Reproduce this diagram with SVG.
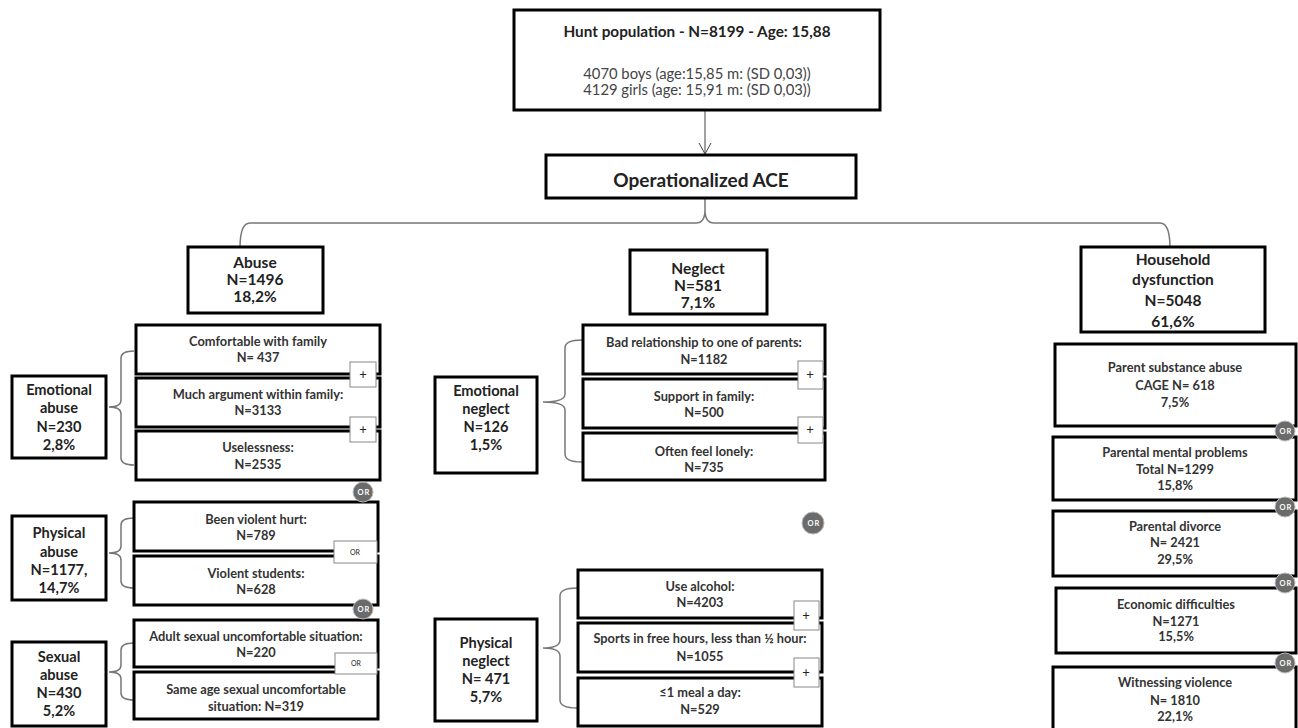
<svg xmlns="http://www.w3.org/2000/svg" width="1298" height="728" viewBox="0 0 1298 728">
<defs>
<style>
text{font-family:Lato,"Liberation Sans",sans-serif;text-anchor:middle;fill:#222}
.box{fill:#fff;stroke:#000;stroke-width:3}
.item{font-size:12.8px;font-weight:bold;fill:#333}
.cat{font-size:14.6px;font-weight:bold}
.main{font-size:15.5px;font-weight:bold}
.plus{fill:#fff;stroke:#888;stroke-width:1}
.pt{font-size:13px;fill:#222}
.orc{fill:#6b6b6b;stroke:#bbb;stroke-width:1}
.ort{font-size:7.5px;font-weight:bold;fill:#fff;letter-spacing:1px}
.orr{font-size:7px;fill:#222}
.br{fill:none;stroke:#777;stroke-width:1.5}
</style>
</defs>

<g id="connectors">
<line x1="705" y1="111" x2="705" y2="154" stroke="#444" stroke-width="1"/>
<path d="M699,143 L705,154 L711,143" fill="none" stroke="#444" stroke-width="1"/>
<path class="br" d="M240,248 Q240,223 250,223 L696,223 Q705,223 705,210 L705,198 M705,210 Q705,223 714,223 L1160,223 Q1170,223 1170,248"/>
<path class="br" d="M134,351 Q121,351 121,358 L121,400 Q121,407 109,407 Q121,407 121,414 L121,458 Q121,465 134,465"/>
<path class="br" d="M134,518 Q121,518 121,525 L121,546 Q121,553 109,553 Q121,553 121,560 L121,581 Q121,588 134,588"/>
<path class="br" d="M134,643 Q121,643 121,650 L121,665 Q121,672 109,672 Q121,672 121,679 L121,693 Q121,700 134,700"/>
<path class="br" d="M582,340 Q565,340 565,348 L565,394 Q565,402 543,402 Q565,402 565,410 L565,454 Q565,462 582,462"/>
<path class="br" d="M577,588 Q560,588 560,596 L560,640 Q560,648 543,648 Q560,648 560,656 L560,700 Q560,708 577,708"/>
</g>

<g id="top">
<rect class="box" x="514" y="10" width="366" height="100"/>
<text x="697" y="37" style="font-size:15.3px;font-weight:bold">Hunt population - N=8199 - Age: 15,88</text>
<text x="697" y="79" style="font-size:14.8px;fill:#444">4070 boys (age:15,85 m: (SD 0,03))</text>
<text x="697" y="95" style="font-size:14.8px;fill:#444">4129 girls (age: 15,91 m: (SD 0,03))</text>
</g>

<g id="ace">
<rect class="box" x="546" y="155" width="310" height="43"/>
<text x="701" y="187" style="font-size:19px;font-weight:bold">Operationalized ACE</text>
</g>

<g id="abuse">
<rect class="box" x="188" y="247" width="135" height="66"/>
<text class="main" x="255" y="268">Abuse</text>
<text class="main" x="255" y="285">N=1496</text>
<text class="main" x="255" y="302">18,2%</text>
</g>

<g id="emotional-abuse">
<rect class="box" x="12" y="376" width="94" height="82"/>
<text class="cat" x="59" y="395">Emotional</text>
<text class="cat" x="59" y="413">abuse</text>
<text class="cat" x="59" y="432">N=230</text>
<text class="cat" x="59" y="450">2,8%</text>
</g>
<g id="comfortable">
<rect class="box" x="136" y="325" width="244" height="49"/>
<text class="item" x="258" y="346">Comfortable with family</text>
<text class="item" x="258" y="362">N= 437</text>
</g>
<g id="argument">
<rect class="box" x="136" y="378" width="244" height="49"/>
<text class="item" x="258" y="399">Much argument within family:</text>
<text class="item" x="258" y="415">N=3133</text>
</g>
<g id="uselessness">
<rect class="box" x="136" y="431" width="244" height="49"/>
<text class="item" x="258" y="452">Uselessness:</text>
<text class="item" x="258" y="469">N=2535</text>
</g>
<g id="plus-ea1"><rect class="plus" x="350" y="362" width="26" height="25"/><text class="pt" x="363" y="379">+</text></g>
<g id="plus-ea2"><rect class="plus" x="350" y="417" width="26" height="25"/><text class="pt" x="363" y="434">+</text></g>

<g id="physical-abuse">
<rect class="box" x="12" y="516" width="94" height="84"/>
<text class="cat" x="59" y="538">Physical</text>
<text class="cat" x="59" y="557">abuse</text>
<text class="cat" x="59" y="575">N=1177,</text>
<text class="cat" x="59" y="593">14,7%</text>
</g>
<g id="violent-hurt">
<rect class="box" x="134" y="502" width="244" height="49"/>
<text class="item" x="256" y="524">Been violent hurt:</text>
<text class="item" x="256" y="540">N=789</text>
</g>
<g id="violent-students">
<rect class="box" x="134" y="556" width="244" height="49"/>
<text class="item" x="256" y="578">Violent students:</text>
<text class="item" x="256" y="594">N=628</text>
</g>
<g id="or-r1"><rect class="plus" x="334" y="541" width="43" height="22"/><text class="orr" x="355" y="555">OR</text></g>

<g id="sexual-abuse">
<rect class="box" x="12" y="642" width="94" height="84"/>
<text class="cat" x="59" y="662">Sexual</text>
<text class="cat" x="59" y="680">abuse</text>
<text class="cat" x="59" y="698">N=430</text>
<text class="cat" x="59" y="716">5,2%</text>
</g>
<g id="adult-sexual">
<rect class="box" x="134" y="620" width="244" height="47"/>
<text class="item" x="256" y="641">Adult sexual uncomfortable situation:</text>
<text class="item" x="256" y="657">N=220</text>
</g>
<g id="same-age-sexual">
<rect class="box" x="134" y="672" width="244" height="47"/>
<text class="item" x="256" y="694">Same age  sexual  uncomfortable</text>
<text class="item" x="256" y="711">situation: N=319</text>
</g>
<g id="or-r2"><rect class="plus" x="335" y="653" width="42" height="21"/><text class="orr" x="356" y="666">OR</text></g>

<g id="neglect">
<rect class="box" x="630" y="250" width="137" height="64"/>
<text class="main" x="698" y="274">Neglect</text>
<text class="main" x="698" y="291">N=581</text>
<text class="main" x="698" y="308">7,1%</text>
</g>
<g id="emotional-neglect">
<rect class="box" x="435" y="377" width="102" height="96"/>
<text class="cat" x="486" y="396">Emotional</text>
<text class="cat" x="486" y="414">neglect</text>
<text class="cat" x="486" y="432">N=126</text>
<text class="cat" x="486" y="450">1,5%</text>
</g>
<g id="bad-relationship">
<rect class="box" x="583" y="325" width="242" height="49"/>
<text class="item" x="704" y="347">Bad relationship to one of parents:</text>
<text class="item" x="704" y="364">N=1182</text>
</g>
<g id="support">
<rect class="box" x="583" y="379" width="242" height="49"/>
<text class="item" x="704" y="401">Support in family:</text>
<text class="item" x="704" y="417">N=500</text>
</g>
<g id="lonely">
<rect class="box" x="583" y="433" width="242" height="47"/>
<text class="item" x="704" y="456">Often feel lonely:</text>
<text class="item" x="704" y="472">N=735</text>
</g>
<g id="plus-en1"><rect class="plus" x="798" y="361" width="25" height="28"/><text class="pt" x="810" y="379">+</text></g>
<g id="plus-en2"><rect class="plus" x="798" y="417" width="25" height="26"/><text class="pt" x="810" y="434">+</text></g>

<g id="physical-neglect">
<rect class="box" x="435" y="619" width="102" height="102"/>
<text class="cat" x="486" y="648">Physical</text>
<text class="cat" x="486" y="666">neglect</text>
<text class="cat" x="486" y="684">N= 471</text>
<text class="cat" x="486" y="702">5,7%</text>
</g>
<g id="alcohol">
<rect class="box" x="578" y="570" width="244" height="48"/>
<text class="item" x="700" y="591">Use alcohol:</text>
<text class="item" x="700" y="607">N=4203</text>
</g>
<g id="sports">
<rect class="box" x="578" y="623" width="244" height="49"/>
<text class="item" x="700" y="643">Sports in free hours, less than ½ hour:</text>
<text class="item" x="700" y="661">N=1055</text>
</g>
<g id="meal">
<rect class="box" x="578" y="678" width="244" height="48"/>
<text class="item" x="700" y="697">≤1 meal a day:</text>
<text class="item" x="700" y="714">N=529</text>
</g>
<g id="plus-pn1"><rect class="plus" x="794" y="601" width="25" height="29"/><text class="pt" x="806" y="620">+</text></g>
<g id="plus-pn2"><rect class="plus" x="794" y="658" width="25" height="29"/><text class="pt" x="806" y="677">+</text></g>

<g id="household">
<rect class="box" x="1081" y="247" width="184" height="85"/>
<text class="main" x="1173" y="265">Household</text>
<text class="main" x="1173" y="285">dysfunction</text>
<text class="main" x="1173" y="306">N=5048</text>
<text class="main" x="1173" y="327">61,6%</text>
</g>
<g id="substance">
<rect class="box" x="1055" y="344" width="241" height="82"/>
<text class="item" x="1175" y="372">Parent substance abuse</text>
<text class="item" x="1175" y="390">CAGE N= 618</text>
<text class="item" x="1175" y="407">7,5%</text>
</g>
<g id="mental">
<rect class="box" x="1053" y="437" width="243" height="63"/>
<text class="item" x="1175" y="457">Parental mental problems</text>
<text class="item" x="1175" y="474">Total N=1299</text>
<text class="item" x="1175" y="490">15,8%</text>
</g>
<g id="divorce">
<rect class="box" x="1053" y="511" width="243" height="65"/>
<text class="item" x="1175" y="531">Parental divorce</text>
<text class="item" x="1175" y="547">N= 2421</text>
<text class="item" x="1175" y="564">29,5%</text>
</g>
<g id="economic">
<rect class="box" x="1056" y="588" width="240" height="65"/>
<text class="item" x="1176" y="609">Economic difficulties</text>
<text class="item" x="1176" y="626">N=1271</text>
<text class="item" x="1176" y="641">15,5%</text>
</g>
<g id="witnessing">
<rect class="box" x="1053" y="667" width="243" height="75"/>
<text class="item" x="1175" y="687">Witnessing  violence</text>
<text class="item" x="1175" y="705">N= 1810</text>
<text class="item" x="1175" y="721">22,1%</text>
</g>

<g id="or-1"><circle class="orc" cx="363" cy="492" r="10"/><text class="ort" x="364" y="495">OR</text></g>
<g id="or-2"><circle class="orc" cx="363" cy="609" r="10"/><text class="ort" x="364" y="612">OR</text></g>
<g id="or-3"><circle class="orc" cx="813" cy="523" r="11"/><text class="ort" x="814" y="526">OR</text></g>
<g id="or-4"><circle class="orc" cx="1285" cy="431" r="10"/><text class="ort" x="1286" y="434">OR</text></g>
<g id="or-5"><circle class="orc" cx="1285" cy="507" r="10"/><text class="ort" x="1286" y="510">OR</text></g>
<g id="or-6"><circle class="orc" cx="1285" cy="583" r="10"/><text class="ort" x="1286" y="586">OR</text></g>
<g id="or-7"><circle class="orc" cx="1285" cy="663" r="10"/><text class="ort" x="1286" y="666">OR</text></g>
</svg>
